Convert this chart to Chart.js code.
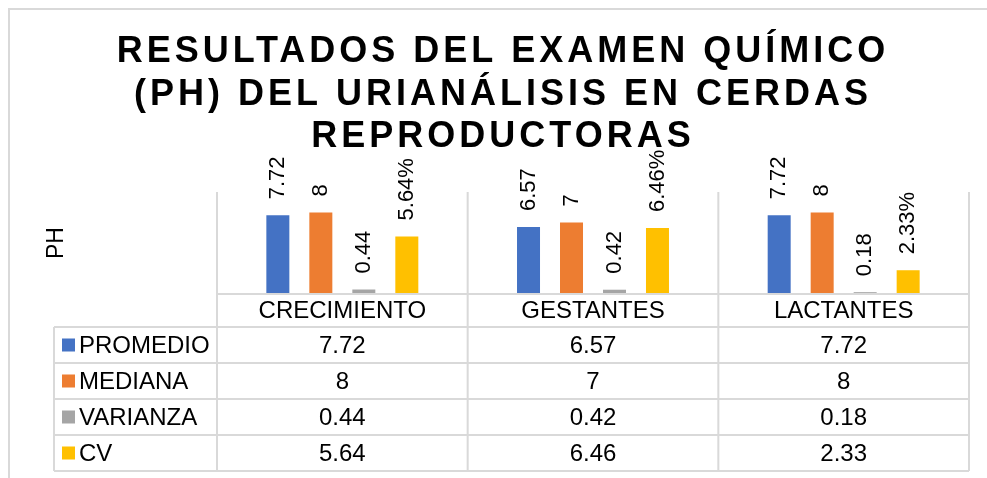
<!DOCTYPE html>
<html>
<head>
<meta charset="utf-8">
<script src="https://cdn.jsdelivr.net/npm/chart.js@4"></script>
<style>
  body { margin: 0; background: #fff; }
  canvas { display: block; }
</style>
</head>
<body>
<canvas id="ph-chart" width="987" height="478"></canvas>
<script>
// data
const categories = ['CRECIMIENTO', 'GESTANTES', 'LACTANTES'];
const seriesNames = ['PROMEDIO', 'MEDIANA', 'VARIANZA', 'CV'];
const promedio = [7.72, 6.57, 7.72];
const mediana = [8, 7, 8];
const varianza = [0.44, 0.42, 0.18];
const cv = [5.64, 6.46, 2.33];
const seriesColors = ['#4472C4', '#ED7D31', '#A5A5A5', '#FFC000'];
const titleLines = [
  'RESULTADOS DEL EXAMEN QUÍMICO',
  '(PH) DEL URIANÁLISIS EN CERDAS',
  'REPRODUCTORAS'
];
const yTitle = 'PH';

const FONT = '"Liberation Sans", Arial, sans-serif';
const GRID = '#d9d9d9';

// frame, title, axis title
const framePlugin = {
  id: 'frame',
  beforeDraw(chart) {
    const ctx = chart.ctx;
    ctx.save();
    ctx.fillStyle = '#fff';
    ctx.fillRect(0, 0, chart.width, chart.height);
    ctx.strokeStyle = GRID;
    ctx.lineWidth = 2;
    ctx.beginPath();
    ctx.moveTo(9, chart.height);
    ctx.lineTo(9, 9);
    ctx.lineTo(chart.width, 9);
    ctx.stroke();

    // title with wide letter spacing
    ctx.fillStyle = '#000';
    ctx.textAlign = 'center';
    ctx.textBaseline = 'alphabetic';
    ctx.font = 'bold 36px ' + FONT;
    ctx.letterSpacing = '4px';
    titleLines.forEach((line, i) => {
      ctx.fillText(line, 503, 62 + i * 42.5);
    });
    ctx.letterSpacing = '0px';

    // y axis title
    ctx.font = '23px ' + FONT;
    ctx.translate(57, 243);
    ctx.rotate(-Math.PI / 2);
    ctx.textBaseline = 'middle';
    ctx.fillText(yTitle, 0, 0);
    ctx.restore();
  }
};

// rotated value labels above the bars
const labelPlugin = {
  id: 'barLabels',
  afterDatasetsDraw(chart) {
    const ctx = chart.ctx;
    ctx.save();
    ctx.fillStyle = '#000';
    ctx.font = '22px ' + FONT;
    ctx.textAlign = 'left';
    ctx.textBaseline = 'middle';
    chart.data.datasets.forEach((ds, di) => {
      chart.getDatasetMeta(di).data.forEach((bar, i) => {
        const v = ds.data[i];
        const text = ds.label === 'CV' ? v + '%' : String(v);
        ctx.save();
        ctx.translate(bar.x, bar.y - 16);
        ctx.rotate(-Math.PI / 2);
        ctx.fillText(text, 0, 0);
        ctx.restore();
      });
    });
    ctx.restore();
  }
};

// Excel style data table under the plot
const tablePlugin = {
  id: 'dataTable',
  afterDraw(chart) {
    const ctx = chart.ctx;
    const area = chart.chartArea;
    const xs = chart.scales.x;
    const rowH = 36;
    const headBottom = area.bottom + 33;
    const tableBottom = headBottom + rowH * seriesNames.length;
    const legendLeft = 54;
    const half = (xs.getPixelForValue(1) - xs.getPixelForValue(0)) / 2;

    ctx.save();
    ctx.strokeStyle = GRID;
    ctx.lineWidth = 2;
    ctx.beginPath();
    // column lines
    const bounds = [area.left];
    categories.forEach((c, i) => bounds.push(xs.getPixelForValue(i) + half));
    bounds.forEach(x => {
      ctx.moveTo(x, area.top);
      ctx.lineTo(x, tableBottom);
    });
    ctx.moveTo(legendLeft, headBottom);
    ctx.lineTo(legendLeft, tableBottom);
    // row lines
    ctx.moveTo(area.left, area.bottom);
    ctx.lineTo(area.right, area.bottom);
    for (let r = 0; r <= seriesNames.length; r++) {
      const y = headBottom + r * rowH;
      ctx.moveTo(legendLeft, y);
      ctx.lineTo(area.right, y);
    }
    ctx.stroke();

    ctx.fillStyle = '#000';
    ctx.font = '24px ' + FONT;
    ctx.textBaseline = 'middle';
    ctx.textAlign = 'center';
    categories.forEach((c, i) => {
      ctx.fillText(c, xs.getPixelForValue(i), area.bottom + 17);
    });

    chart.data.datasets.forEach((ds, r) => {
      const yc = headBottom + r * rowH + rowH / 2;
      ctx.fillStyle = seriesColors[r];
      ctx.fillRect(62, yc - 6.5, 13, 13);
      ctx.fillStyle = '#000';
      ctx.textAlign = 'left';
      ctx.fillText(ds.label, 79, yc + 1);
      ctx.textAlign = 'center';
      ds.data.forEach((v, i) => {
        ctx.fillText(String(v), xs.getPixelForValue(i), yc + 1);
      });
    });
    ctx.restore();
  }
};

const seriesData = [promedio, mediana, varianza, cv];

new Chart(document.getElementById('ph-chart'), {
  type: 'bar',
  data: {
    labels: categories,
    datasets: seriesNames.map((name, i) => ({
      label: name,
      data: seriesData[i],
      backgroundColor: seriesColors[i],
      borderWidth: 0,
      categoryPercentage: 0.686,
      barPercentage: 0.535,
    })),
  },
  options: {
    responsive: false,
    animation: false,
    layout: {
      padding: { left: 217, right: 18, top: 192, bottom: 184 },
    },
    plugins: {
      legend: { display: false },
      title: { display: false },
      tooltip: { enabled: false },
    },
    scales: {
      x: { display: false },
      y: { display: false, min: 0, max: 10 },
    },
  },
  plugins: [framePlugin, labelPlugin, tablePlugin],
});
</script>
</body>
</html>
